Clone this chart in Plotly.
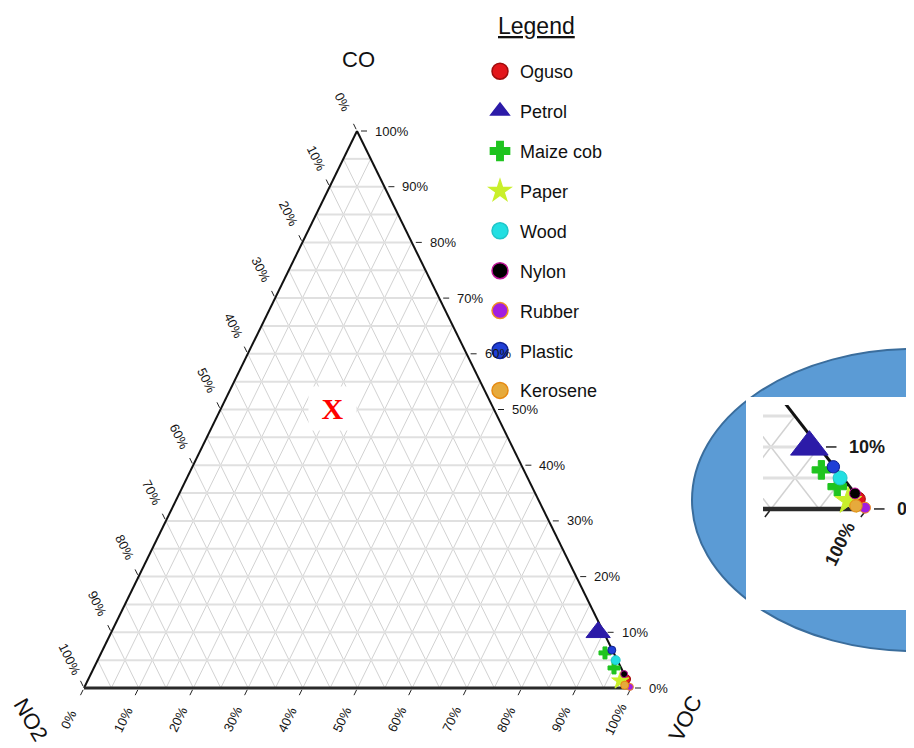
import math
import plotly.graph_objects as go

# ---------------- data (percent composition) ----------------
point_sample = ["Oguso", "Petrol", "Maize cob", "Maize cob", "Paper", "Wood",
                "Nylon", "Rubber", "Plastic", "Kerosene"]
co_pct = [1.6, 10.0, 6.3, 3.6, 1.3, 5.0, 2.5, 0.2, 6.8, 0.5]
voc_pct = [98.3, 89.0, 92.1, 95.1, 97.4, 94.7, 97.5, 99.7, 93.1, 98.6]
no2_pct = [0.1, 1.0, 1.6, 1.3, 1.3, 0.3, 0.0, 0.1, 0.1, 0.9]

legend_order = ["Oguso", "Petrol", "Maize cob", "Paper", "Wood", "Nylon",
                "Rubber", "Plastic", "Kerosene"]
tick_pct = [0, 10, 20, 30, 40, 50, 60, 70, 80, 90, 100]
tick_labels = ["0%", "10%", "20%", "30%", "40%", "50%", "60%", "70%", "80%", "90%", "100%"]
grid_pct = [5, 10, 15, 20, 25, 30, 35, 40, 45, 50, 55, 60, 65, 70, 75, 80, 85, 90, 95]
axis_names = ["CO", "VOC", "NO2"]
legend_title = "Legend"

# ---------------- styles ----------------
STYLE = {
    "Oguso":     dict(symbol="circle", color="#e3161b", line="#a00c0c", size=9),
    "Petrol":    dict(symbol="triangle-up", color="#2c1ba8", line="#2c1ba8", size=21),
    "Maize cob": dict(symbol="cross", color="#1fc41f", line="#1fc41f", size=10),
    "Paper":     dict(symbol="star", color="#c9ef2b", line="#c9ef2b", size=13),
    "Wood":      dict(symbol="circle", color="#22dfe2", line="#20c6c8", size=9),
    "Nylon":     dict(symbol="circle", color="#000000", line="#c0169a", size=7),
    "Rubber":    dict(symbol="circle", color="#a11ee0", line="#f09020", size=7),
    "Plastic":   dict(symbol="circle", color="#1f3fd6", line="#10208f", size=8),
    "Kerosene":  dict(symbol="circle", color="#e6aa3c", line="#e68a12", size=8),
}
FONT = "Liberation Sans, Arial, sans-serif"
W, H = 914, 748          # page size
OFF = 8                  # default page margin around the plot div
FW, FH = W - OFF, H - OFF

# triangle corners in page pixels
V_CO = (357.0, 131.0)
V_VOC = (631.0, 688.0)
V_NO2 = (84.0, 688.0)


def px(x):
    return (x - OFF) / FW


def py(y):
    return (H - y) / FH


def to_xy(co, voc, no2):
    s = co + voc + no2
    a, b, c = co / s, voc / s, no2 / s
    return (a * V_CO[0] + b * V_VOC[0] + c * V_NO2[0],
            a * V_CO[1] + b * V_VOC[1] + c * V_NO2[1])


def unit(p, q):
    dx, dy = q[0] - p[0], q[1] - p[1]
    n = math.hypot(dx, dy)
    return dx / n, dy / n


def shift(p, d, k):
    return (p[0] + d[0] * k, p[1] + d[1] * k)


DIR_CO = (1.0, 0.0)
DIR_NO2 = unit(V_VOC, V_CO)     # outward (up-left) along NO2 grid lines
DIR_VOC = unit(V_CO, V_NO2)     # outward (down-left) along VOC grid lines
ANG_NO2 = math.degrees(math.atan2(-DIR_NO2[1], -DIR_NO2[0]))
ANG_VOC = -math.degrees(math.atan2(DIR_VOC[1], -DIR_VOC[0]))

# inset (magnified corner): target box on page and source window in page px
INSET_BOX = (763, 914, 405, 600)
INSET_SRC = (571.7, 657.8, 594.6, 769.8)

fig = go.Figure()


def seg_trace(segs, color, width, xa, ya):
    xs, ys = [], []
    for p, q in segs:
        xs += [p[0], q[0], None]
        ys += [p[1], q[1], None]
    return go.Scatter(x=xs, y=ys, mode="lines", line=dict(color=color, width=width),
                      hoverinfo="skip", showlegend=False, xaxis=xa, yaxis=ya)


h_segs = [(to_xy(k, 0, 100 - k), to_xy(k, 100 - k, 0)) for k in grid_pct]
no2_segs = [(to_xy(100 - k, 0, k), to_xy(0, 100 - k, k)) for k in grid_pct]
voc_segs = [(to_xy(100 - k, k, 0), to_xy(0, k, 100 - k)) for k in grid_pct]
edge_side = [(V_NO2, V_CO), (V_CO, V_VOC)]
edge_base = [(V_NO2, V_VOC)]

tick_segs = []
for t in tick_pct:
    p = to_xy(t, 100 - t, 0)
    tick_segs.append((shift(p, DIR_CO, 4), shift(p, DIR_CO, 10)))
    p = to_xy(100 - t, 0, t)
    tick_segs.append((shift(p, DIR_NO2, 2), shift(p, DIR_NO2, 8)))
    p = to_xy(0, t, 100 - t)
    tick_segs.append((shift(p, DIR_VOC, 2), shift(p, DIR_VOC, 8)))


def add_layers(xa, ya, k_line, k_mark):
    fig.add_trace(seg_trace(voc_segs + no2_segs, "#d2d2d2", 1 * k_line, xa, ya))
    fig.add_trace(seg_trace(h_segs, "#e0e0e0", 2 * k_line, xa, ya))
    fig.add_trace(seg_trace(edge_side, "#111111", 2 * k_line, xa, ya))
    fig.add_trace(seg_trace(edge_base, "#2a2a2a", 3 * k_line, xa, ya))
    fig.add_trace(seg_trace(tick_segs, "#222222", 1 * k_line, xa, ya))
    for name in legend_order:
        idx = [i for i, s in enumerate(point_sample) if s == name]
        pts = [to_xy(co_pct[i], voc_pct[i], no2_pct[i]) for i in idx]
        st = STYLE[name]
        fig.add_trace(go.Scatter(
            x=[p[0] for p in pts], y=[p[1] for p in pts], mode="markers", name=name,
            marker=dict(symbol=st["symbol"], color=st["color"], size=st["size"] * k_mark,
                        line=dict(color=st["line"], width=1)),
            showlegend=False, xaxis=xa, yaxis=ya,
            hovertemplate=name + "<extra></extra>"))


add_layers("x", "y", 1.0, 1.0)
add_layers("x2", "y2", 1.5, 1.55)

# legend entries
for name in legend_order:
    st = STYLE[name]
    fig.add_trace(go.Scatter(
        x=[None], y=[None], mode="markers", name=name, legendgroup=name,
        marker=dict(symbol=st["symbol"], color=st["color"], size=16,
                    line=dict(color=st["line"], width=1.5)),
        xaxis="x", yaxis="y"))

# tick labels
ann = []


def in_inset(p):
    return INSET_SRC[0] <= p[0] <= INSET_SRC[1] and INSET_SRC[2] <= p[1] <= INSET_SRC[3]


for t, lab in zip(tick_pct, tick_labels):
    items = []
    p = shift(to_xy(t, 100 - t, 0), DIR_CO, 16)
    items.append(dict(x=p[0], y=p[1], text=lab, xanchor="left", yanchor="middle", textangle=0))
    p = shift(to_xy(100 - t, 0, t), DIR_NO2, 32)
    items.append(dict(x=p[0], y=p[1], text=lab, xanchor="center", yanchor="middle", textangle=ANG_NO2))
    p = shift(to_xy(0, t, 100 - t), DIR_VOC, 35)
    items.append(dict(x=p[0], y=p[1], text=lab, xanchor="center", yanchor="middle", textangle=ANG_VOC))
    for it in items:
        ann.append(dict(it, xref="x", yref="y", showarrow=False,
                        font=dict(family=FONT, size=13, color="#151515")))
        if in_inset((it["x"], it["y"])):
            ann.append(dict(it, xref="x2", yref="y2", showarrow=False,
                            text="<b>" + it["text"] + "</b>",
                            font=dict(family=FONT, size=18, color="#1a1a1a")))

# axis titles
p = shift(V_CO, (0, -1), 72)
ann.append(dict(x=p[0] + 1, y=p[1], text=axis_names[0], xref="x", yref="y", showarrow=False,
                font=dict(family=FONT, size=22, color="#111111")))
ann.append(dict(x=V_VOC[0] + 54, y=V_VOC[1] + 30, text=axis_names[1], xref="x", yref="y",
                showarrow=False, textangle=ANG_VOC,
                font=dict(family=FONT, size=22, color="#111111")))
ann.append(dict(x=V_NO2[0] - 53, y=V_NO2[1] + 31, text=axis_names[2], xref="x", yref="y",
                showarrow=False, textangle=ANG_NO2 - 4,
                font=dict(family=FONT, size=22, color="#111111")))
# legend heading
ann.append(dict(x=px(536), y=py(26), xref="paper", yref="paper", showarrow=False,
                xanchor="center", yanchor="middle",
                text="<u>" + legend_title + "</u>",
                font=dict(family=FONT, size=23, color="#111111")))
# red X marker on white box
ann.append(dict(x=332, y=408, text="&nbsp;X&nbsp;", xref="x", yref="y", showarrow=False,
                bgcolor="#ffffff", borderpad=5,
                font=dict(family="Liberation Serif, Times New Roman, serif", size=30,
                          color="#ff0000", weight="bold")))

shapes = [
    dict(type="circle", xref="paper", yref="paper", layer="below",
         x0=px(914 - 222), x1=px(914 + 222), y0=py(651), y1=py(349),
         fillcolor="#5b9bd5", line=dict(color="#3a6d9c", width=2)),
    dict(type="rect", xref="paper", yref="paper", layer="below",
         x0=px(746), x1=1.02, y0=py(610), y1=py(397),
         fillcolor="#ffffff", line=dict(width=0)),
]

fig.update_layout(
    width=FW, height=FH, margin=dict(l=0, r=0, t=0, b=0),
    paper_bgcolor="#ffffff", plot_bgcolor="rgba(0,0,0,0)",
    xaxis=dict(range=[OFF, W], domain=[0, 1], visible=False, fixedrange=True),
    yaxis=dict(range=[H, OFF], domain=[0, 1], visible=False, fixedrange=True),
    xaxis2=dict(range=[INSET_SRC[0], INSET_SRC[1]], anchor="y2",
                domain=[px(INSET_BOX[0]), 1], visible=False, fixedrange=True),
    yaxis2=dict(range=[INSET_SRC[3], INSET_SRC[2]], anchor="x2",
                domain=[py(INSET_BOX[3]), py(INSET_BOX[2])], visible=False,
                fixedrange=True),
    annotations=ann, shapes=shapes,
    legend=dict(x=px(480), y=py(53), xanchor="left", yanchor="top",
                bgcolor="rgba(0,0,0,0)", traceorder="grouped", tracegroupgap=13.5,
                font=dict(family=FONT, size=18, color="#111111")),
    showlegend=True,
)

fig.write_html("out.html")
